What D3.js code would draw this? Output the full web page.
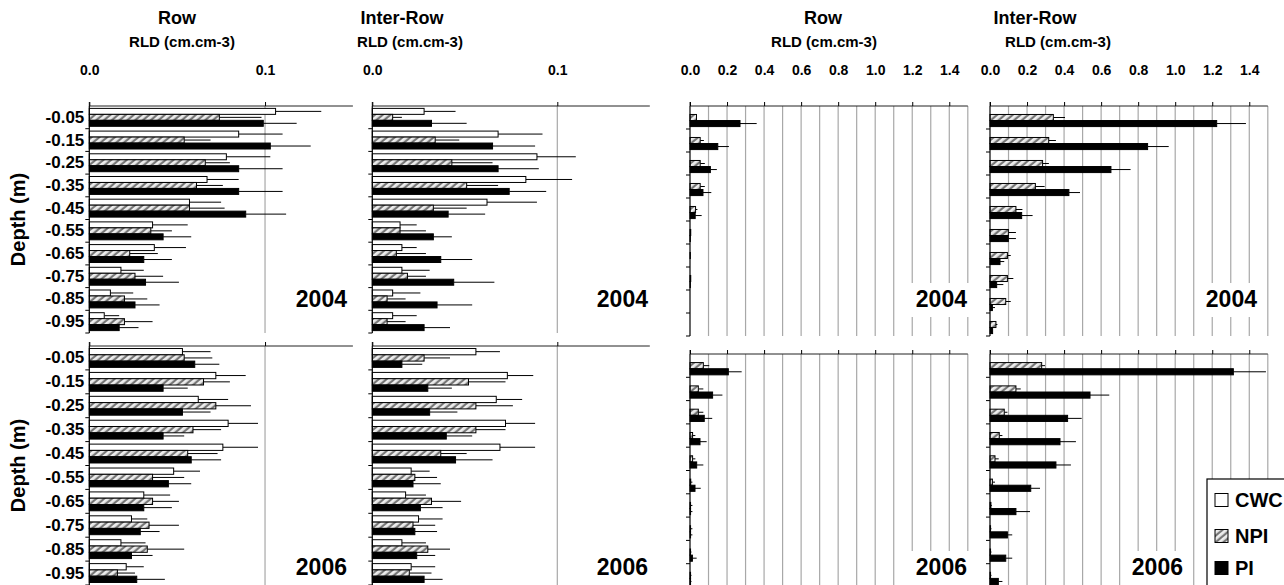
<!DOCTYPE html>
<html lang="en">
<head>
<meta charset="UTF-8" />
<title>RLD by depth</title>
<style>
  body { margin: 0; background: #fff; }
  svg { display: block; font-family: "Liberation Sans", Arial, sans-serif; font-weight: bold; }
</style>
</head>
<body>
<svg id="chart" width="1284" height="585"></svg>
<script src="https://d3js.org/d3.v7.min.js"></script>
<script>
// depth classes and treatments
const depths = ["-0.05", "-0.15", "-0.25", "-0.35", "-0.45", "-0.55", "-0.65", "-0.75", "-0.85", "-0.95"];
const series = ["CWC", "NPI", "PI"];
const fineTicks = [0, 0.1];
const coarseTicks = [0, 0.2, 0.4, 0.6, 0.8, 1.0, 1.2, 1.4];

// values are [CWC, NPI, PI] per depth; *Err = standard error
const row04 = [
  [0.106, 0.085, 0.078, 0.067, 0.057, 0.036, 0.037, 0.018, 0.012, 0.0085],
  [0.074, 0.054, 0.066, 0.061, 0.057, 0.035, 0.023, 0.026, 0.020, 0.020],
  [0.099, 0.103, 0.085, 0.085, 0.089, 0.042, 0.031, 0.032, 0.026, 0.017]
];
const row04Err = [
  [0.026, 0.025, 0.025, 0.018, 0.018, 0.020, 0.018, 0.013, 0.013, 0.0085],
  [0.024, 0.015, 0.014, 0.015, 0.020, 0.012, 0.016, 0.016, 0.013, 0.016],
  [0.019, 0.023, 0.025, 0.025, 0.023, 0.016, 0.016, 0.019, 0.014, 0.011]
];
const inter04 = [
  [0.028, 0.068, 0.089, 0.083, 0.062, 0.015, 0.016, 0.016, 0.011, 0.011],
  [0.011, 0.034, 0.043, 0.051, 0.033, 0.015, 0.013, 0.019, 0.008, 0.008],
  [0.032, 0.065, 0.068, 0.074, 0.041, 0.033, 0.037, 0.044, 0.035, 0.028]
];
const inter04Err = [
  [0.017, 0.024, 0.021, 0.025, 0.027, 0.009, 0.008, 0.015, 0.015, 0.013],
  [0.005, 0.013, 0.022, 0.017, 0.018, 0.014, 0.016, 0.010, 0.010, 0.010],
  [0.019, 0.023, 0.022, 0.020, 0.020, 0.010, 0.017, 0.022, 0.019, 0.014]
];
const row06 = [
  [0.053, 0.072, 0.062, 0.079, 0.076, 0.048, 0.031, 0.024, 0.018, 0.021],
  [0.054, 0.065, 0.072, 0.059, 0.056, 0.036, 0.036, 0.034, 0.033, 0.016],
  [0.060, 0.042, 0.053, 0.042, 0.058, 0.045, 0.031, 0.029, 0.024, 0.027]
];
const row06Err = [
  [0.016, 0.017, 0.017, 0.017, 0.020, 0.015, 0.015, 0.009, 0.014, 0.010],
  [0.016, 0.015, 0.020, 0.016, 0.017, 0.018, 0.015, 0.017, 0.021, 0.010],
  [0.014, 0.014, 0.016, 0.012, 0.017, 0.013, 0.016, 0.011, 0.012, 0.016]
];
const inter06 = [
  [0.056, 0.073, 0.067, 0.072, 0.069, 0.021, 0.018, 0.025, 0.016, 0.021],
  [0.028, 0.052, 0.056, 0.056, 0.037, 0.023, 0.032, 0.022, 0.030, 0.020],
  [0.016, 0.030, 0.031, 0.040, 0.045, 0.022, 0.026, 0.023, 0.024, 0.028]
];
const inter06Err = [
  [0.013, 0.014, 0.014, 0.016, 0.019, 0.010, 0.011, 0.013, 0.013, 0.013],
  [0.014, 0.020, 0.020, 0.016, 0.014, 0.012, 0.016, 0.012, 0.012, 0.012],
  [0.011, 0.013, 0.015, 0.014, 0.020, 0.015, 0.012, 0.012, 0.010, 0.010]
];
// right-hand pair, wider RLD range
const rowB04 = [
  [0, 0, 0, 0, 0, 0, 0, 0, 0, 0],
  [0.035, 0.055, 0.055, 0.055, 0.030, 0.004, 0.002, 0.004, 0, 0],
  [0.270, 0.150, 0.110, 0.070, 0.028, 0.002, 0, 0.002, 0, 0]
];
const rowB04Err = [
  [0, 0, 0, 0, 0, 0, 0, 0, 0, 0],
  [0, 0.020, 0.025, 0.025, 0.010, 0, 0, 0, 0, 0],
  [0.090, 0.060, 0.035, 0.045, 0.035, 0, 0, 0, 0, 0]
];
const interB04 = [
  [0, 0, 0, 0, 0, 0, 0, 0, 0, 0],
  [0.342, 0.317, 0.284, 0.245, 0.140, 0.099, 0.094, 0.094, 0.085, 0.032],
  [1.224, 0.851, 0.653, 0.426, 0.171, 0.099, 0.054, 0.036, 0.013, 0.014]
];
const interB04Err = [
  [0, 0, 0, 0, 0, 0, 0, 0, 0, 0],
  [0.063, 0.039, 0.034, 0.050, 0.035, 0.041, 0.018, 0.032, 0.027, 0.008],
  [0.158, 0.114, 0.106, 0.060, 0.059, 0.041, 0.023, 0.036, 0.014, 0]
];
const rowB06 = [
  [0, 0, 0, 0, 0, 0, 0, 0, 0, 0],
  [0.072, 0.045, 0.045, 0.014, 0.014, 0.004, 0.003, 0.003, 0.003, 0.003],
  [0.207, 0.122, 0.077, 0.054, 0.036, 0.027, 0.003, 0.003, 0.013, 0.003]
];
const rowB06Err = [
  [0, 0, 0, 0, 0, 0, 0, 0, 0, 0],
  [0.032, 0.027, 0.027, 0.015, 0.015, 0.009, 0.010, 0.010, 0.005, 0.005],
  [0.072, 0.053, 0.043, 0.036, 0.036, 0.031, 0.010, 0.010, 0.023, 0.005]
];
const interB06 = [
  [0, 0, 0, 0, 0, 0, 0, 0, 0, 0],
  [0.279, 0.140, 0.077, 0.050, 0.027, 0.013, 0.005, 0.003, 0.003, 0.003],
  [1.314, 0.540, 0.419, 0.378, 0.356, 0.220, 0.140, 0.094, 0.085, 0.045]
];
const interB06Err = [
  [0, 0, 0, 0, 0, 0, 0, 0, 0, 0],
  [0.018, 0.026, 0.017, 0.017, 0.020, 0.014, 0.005, 0.005, 0.005, 0.005],
  [0.176, 0.104, 0.076, 0.086, 0.081, 0.050, 0.076, 0.026, 0.035, 0.022]
];

const svg = d3.select("#chart");

// hatch for NPI
const defs = svg.append("defs");
const pat = defs.append("pattern")
  .attr("id", "hatch")
  .attr("patternUnits", "userSpaceOnUse")
  .attr("width", 5).attr("height", 5)
  .attr("patternTransform", "rotate(50)");
pat.append("rect").attr("width", 5).attr("height", 5).attr("fill", "#767676");
pat.append("rect").attr("width", 2.8).attr("height", 5).attr("fill", "#ededed");

const fills = { CWC: "#fff", NPI: "url(#hatch)", PI: "#000" };

const cols = [
  { x0: 89.3, x1: 352.9, max: 0.15, ticks: fineTicks, grid: [0.1], title: "Row", tx: 177, rx: 182, yearRight: [347, 347] },
  { x0: 372.3, x1: 649.8, max: 0.15, ticks: fineTicks, grid: [0.1], title: "Inter-Row", tx: 402, rx: 410, yearRight: [648, 648] },
  { x0: 690, x1: 967.8, max: 1.5, ticks: coarseTicks, grid: d3.range(1, 16).map(d => d / 10), title: "Row", tx: 823, rx: 824, yearRight: [967, 967] },
  { x0: 990, x1: 1267.8, max: 1.5, ticks: coarseTicks, grid: d3.range(1, 16).map(d => d / 10), title: "Inter-Row", tx: 1035, rx: 1058, yearRight: [1257, 1183] }
];
const rows = [
  { year: "2004", base: 307, fine: [106, 333], coarse: [106, 336] },
  { year: "2006", base: 575, fine: [346, 585], coarse: [354, 587] }
];
const panelData = [
  [[row04, row04Err], [inter04, inter04Err], [rowB04, rowB04Err], [interB04, interB04Err]],
  [[row06, row06Err], [inter06, inter06Err], [rowB06, rowB06Err], [interB06, interB06Err]]
];

// column headings
cols.forEach(c => {
  svg.append("text").attr("x", c.tx).attr("y", 24).attr("text-anchor", "middle")
    .attr("font-size", 18).text(c.title);
  svg.append("text").attr("x", c.rx).attr("y", 47).attr("text-anchor", "middle")
    .attr("font-size", 15).text("RLD (cm.cm-3)");
});

rows.forEach((r, ri) => {
  cols.forEach((c, ci) => {
    const [top, bottom] = c.max < 1 ? r.fine : r.coarse;
    const [vals, errs] = panelData[ri][ci];
    const g = svg.append("g");

    const x = d3.scaleLinear().domain([0, c.max]).range([c.x0, c.x1]);
    const y = d3.scaleBand().domain(depths).range([top, bottom]).padding(0);
    const yi = d3.scaleBand().domain(series).range([0, y.bandwidth()]).paddingOuter(0.4).paddingInner(0);

    // grid
    g.selectAll(".grid").data(c.grid).join("line")
      .attr("x1", d => x(d)).attr("x2", d => x(d))
      .attr("y1", top).attr("y2", bottom)
      .attr("stroke", "#a8a8a8").attr("stroke-width", 1.2);

    // year label on white patch
    const yr = c.yearRight[ri];
    g.append("rect").attr("x", yr - 58).attr("y", r.base - 24)
      .attr("width", 62).attr("height", 34).attr("fill", "#fff");
    g.append("text").attr("x", yr).attr("y", r.base).attr("text-anchor", "end")
      .attr("font-size", 23).text(r.year);

    // bars
    const rowsFlat = [];
    depths.forEach((d, di) => series.forEach((s, si) => {
      rowsFlat.push({ depth: d, s, v: vals[si][di], e: errs[si][di] });
    }));
    const bars = rowsFlat.filter(d => d.v > 0);

    g.selectAll(".err").data(bars.filter(d => d.e > 0)).join("line")
      .attr("x1", d => x(d.v)).attr("x2", d => x(d.v + d.e))
      .attr("y1", d => y(d.depth) + yi(d.s) + yi.bandwidth() / 2)
      .attr("y2", d => y(d.depth) + yi(d.s) + yi.bandwidth() / 2)
      .attr("stroke", "#000").attr("stroke-width", 1);

    g.selectAll(".bar").data(bars).join("rect")
      .attr("x", x(0))
      .attr("y", d => y(d.depth) + yi(d.s))
      .attr("width", d => x(d.v) - x(0))
      .attr("height", yi.bandwidth())
      .attr("fill", d => fills[d.s])
      .attr("stroke", "#000").attr("stroke-width", 1);

    // top axis
    const ax = g.append("g").attr("transform", `translate(0,${top})`)
      .call(d3.axisTop(x).tickValues(c.ticks).tickSize(4).tickPadding(27)
        .tickFormat(ri === 0 ? d3.format(".1f") : ""));
    ax.select(".domain").attr("d", `M${c.x0},-4V0H${c.x1}`).attr("stroke", "#222");
    ax.selectAll("text").attr("font-size", 14).attr("font-family", "Liberation Sans, Arial, sans-serif")
      .attr("font-weight", "bold").attr("fill", "#000");

    // left axis with ticks between depth classes
    g.append("line").attr("x1", c.x0).attr("x2", c.x0).attr("y1", top).attr("y2", bottom)
      .attr("stroke", "#000").attr("stroke-width", 1.2);
    g.selectAll(".ytick").data(depths).join("line")
      .attr("x1", c.x0 - 4).attr("x2", c.x0)
      .attr("y1", d => y(d) + y.bandwidth()).attr("y2", d => y(d) + y.bandwidth())
      .attr("stroke", "#000");

    if (ci === 0) {
      const ly = g.append("g").attr("transform", `translate(${c.x0},0)`)
        .call(d3.axisLeft(y).tickSize(0).tickPadding(5));
      ly.select(".domain").remove();
      ly.selectAll("text").attr("font-size", 17).attr("font-family", "Liberation Sans, Arial, sans-serif")
        .attr("font-weight", "bold").attr("fill", "#000");
      svg.append("text")
        .attr("transform", `translate(25,${(top + bottom) / 2}) rotate(-90)`)
        .attr("text-anchor", "middle").attr("font-size", 20).text("Depth (m)");
    }
  });
});

// legend
const leg = svg.append("g").attr("transform", "translate(1207,479)");
leg.append("rect").attr("width", 100).attr("height", 120).attr("fill", "#fff")
  .attr("stroke", "#000").attr("stroke-width", 1.2);
series.forEach((s, i) => {
  const cy = [21, 57, 89][i];
  leg.append("rect").attr("x", 8).attr("y", cy - 6.5).attr("width", 13).attr("height", 13)
    .attr("fill", fills[s]).attr("stroke", "#000");
  leg.append("text").attr("x", 28).attr("y", cy + 7).attr("font-size", 20).text(s);
});
</script>
</body>
</html>
